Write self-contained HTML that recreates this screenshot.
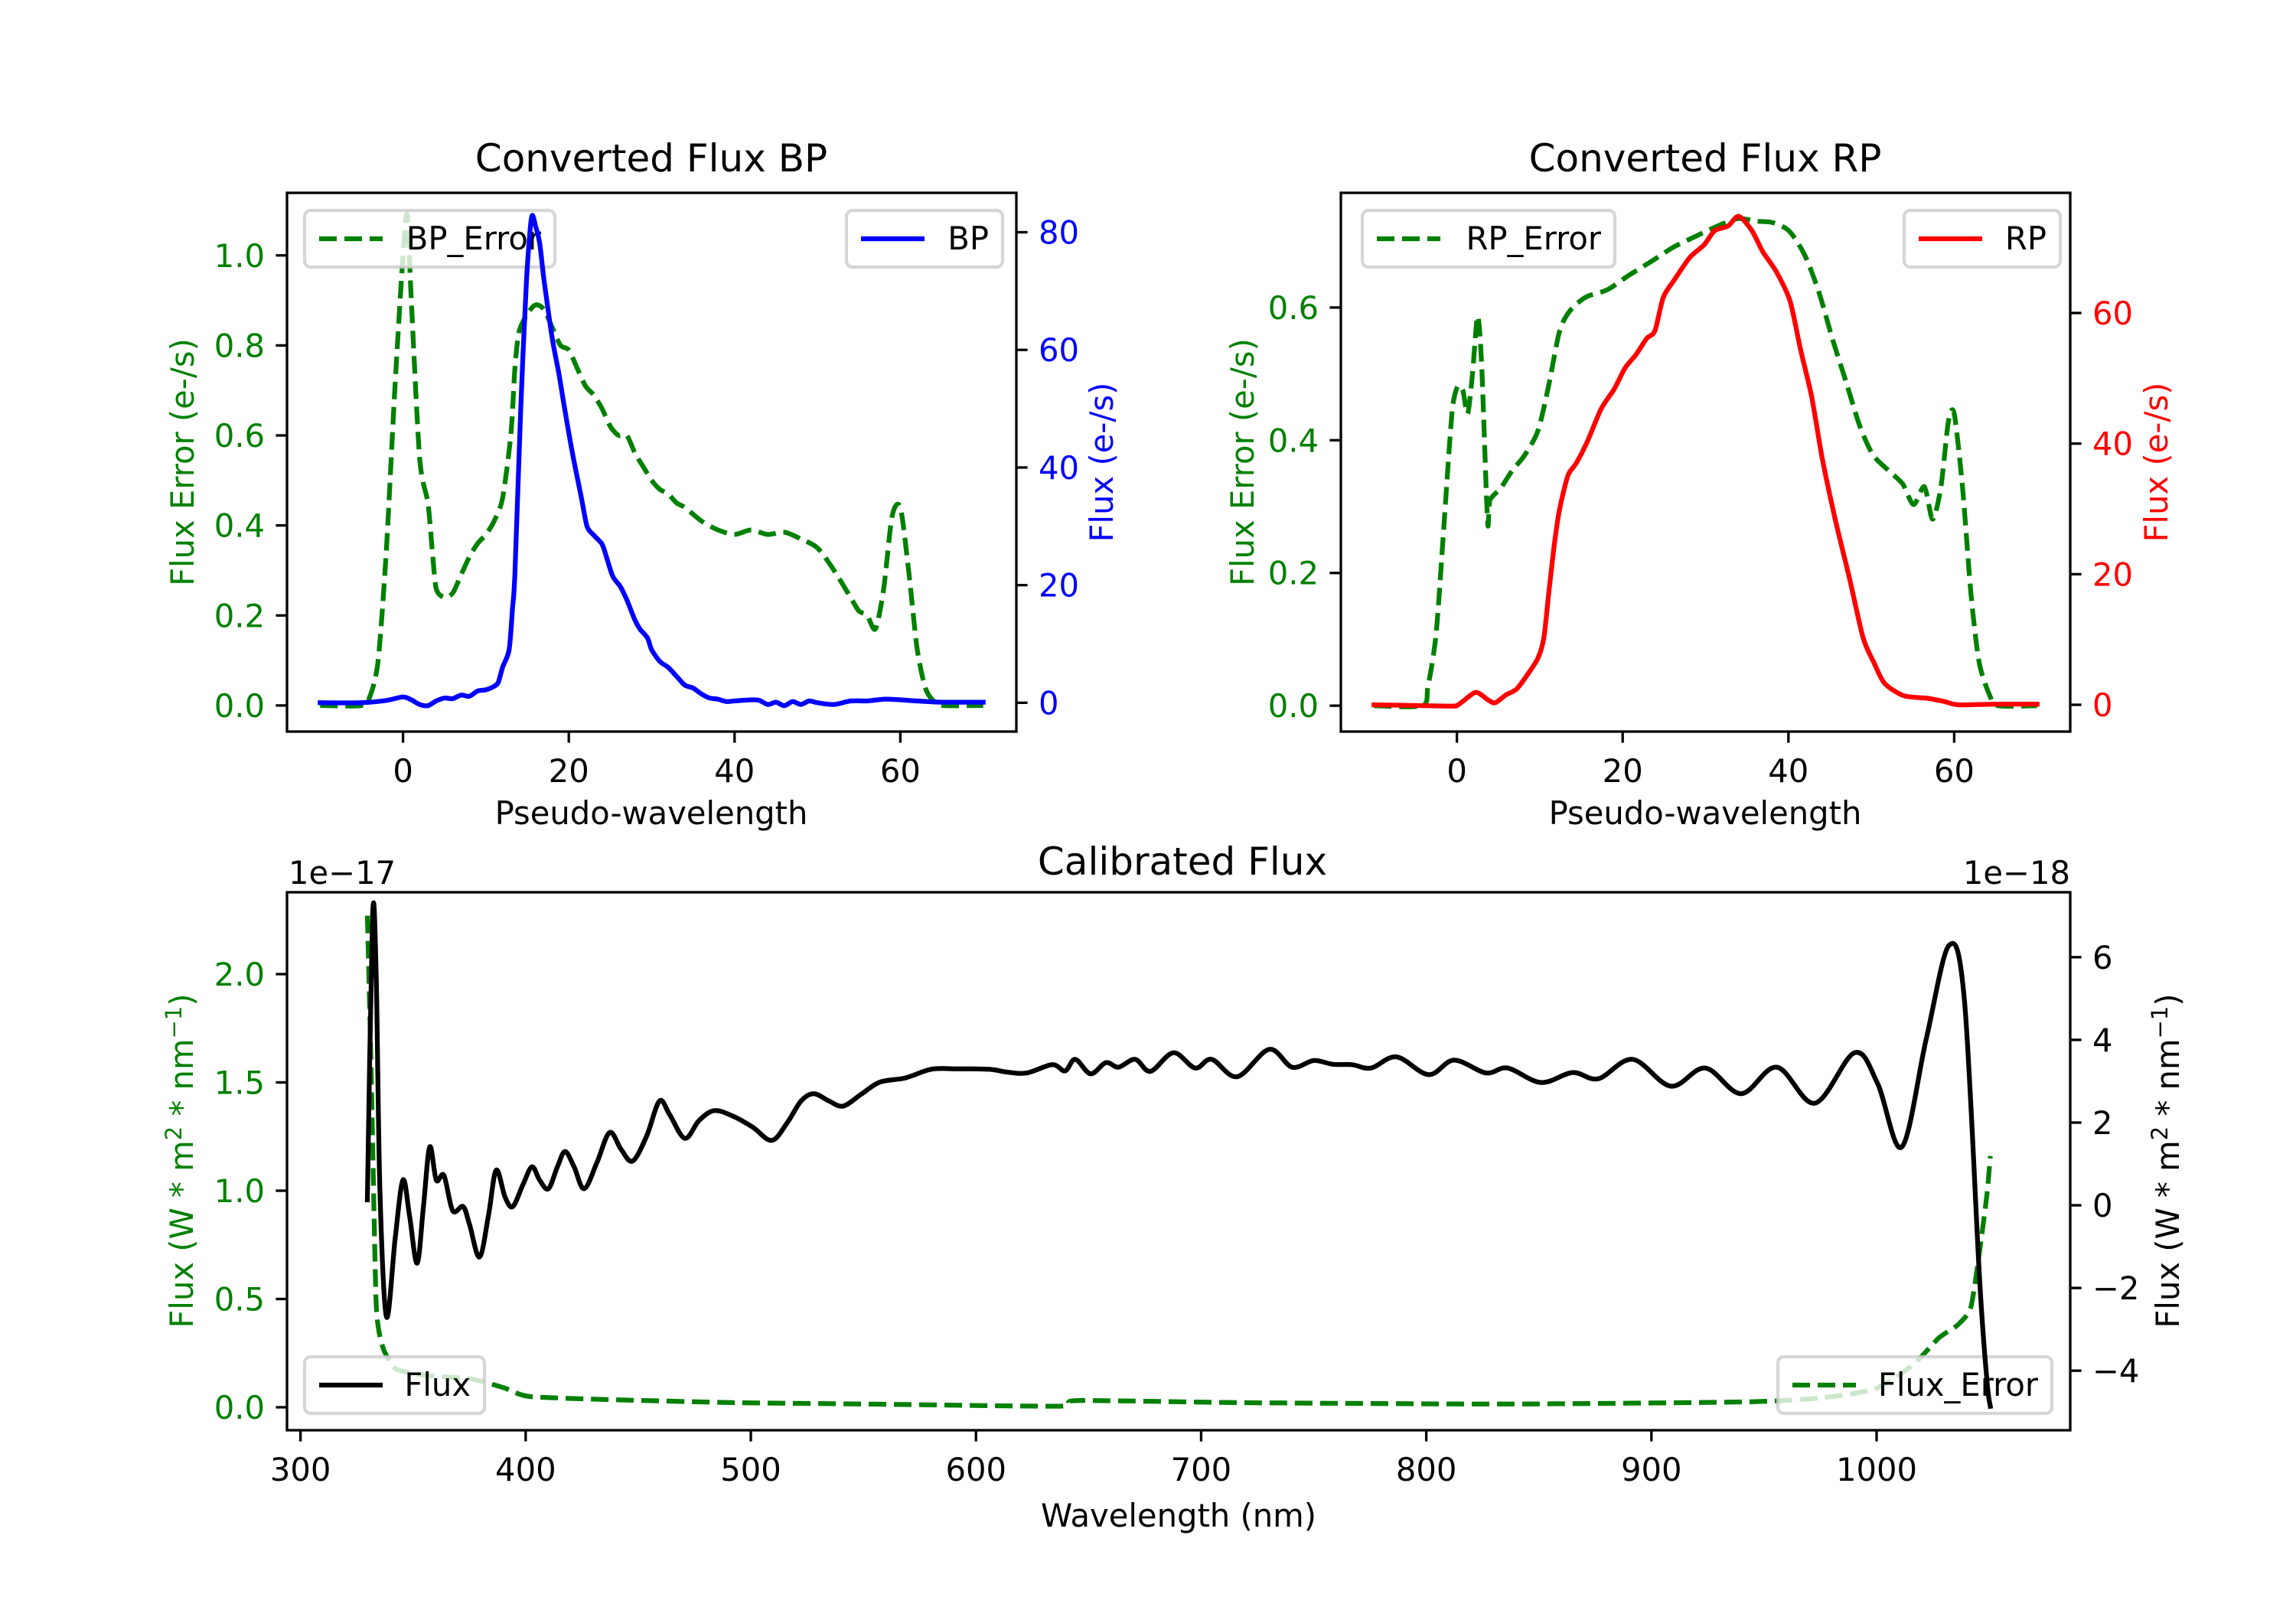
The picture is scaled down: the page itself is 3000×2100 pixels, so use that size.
<!DOCTYPE html>
<html><head><meta charset="utf-8"><style>
html,body{margin:0;padding:0;background:#fff;}
svg{display:block;font-family:"DejaVu Sans","Liberation Sans",sans-serif;}
</style></head><body>
<svg id="fig" width="3000" height="2100" viewBox="0 0 3000 2100" xmlns="http://www.w3.org/2000/svg">
<rect width="3000" height="2100" fill="#fff"/>
<g id="layer"></g>
<text x="851" y="224" font-size="50" text-anchor="middle">Converted Flux BP</text>
<text x="2228" y="224" font-size="50" text-anchor="middle">Converted Flux RP</text>
<text x="1545" y="1143" font-size="50" text-anchor="middle">Calibrated Flux</text>
<text x="851" y="1077" font-size="41.7" text-anchor="middle">Pseudo-wavelength</text>
<text x="2228" y="1077" font-size="41.7" text-anchor="middle">Pseudo-wavelength</text>
<text x="1540" y="1995" font-size="41.7" text-anchor="middle">Wavelength (nm)</text>
<text transform="translate(253,604) rotate(-90)" font-size="41.7" fill="#008000" text-anchor="middle">Flux Error (e-/s)</text>
<text transform="translate(1454,604) rotate(-90)" font-size="41.7" fill="#0000ff" text-anchor="middle">Flux (e-/s)</text>
<text transform="translate(1638,604) rotate(-90)" font-size="41.7" fill="#008000" text-anchor="middle">Flux Error (e-/s)</text>
<text transform="translate(2832,604) rotate(-90)" font-size="41.7" fill="#ff0000" text-anchor="middle">Flux (e-/s)</text>
<text transform="translate(252,1517) rotate(-90)" font-size="41.7" fill="#008000" text-anchor="middle">Flux (W * m<tspan font-size="29" dy="-15">2</tspan><tspan dy="15"> * nm</tspan><tspan font-size="29" dy="-15">−1</tspan><tspan dy="15">)</tspan></text>
<text transform="translate(2847,1517) rotate(-90)" font-size="41.7" fill="#000" text-anchor="middle">Flux (W * m<tspan font-size="29" dy="-15">2</tspan><tspan dy="15"> * nm</tspan><tspan font-size="29" dy="-15">−1</tspan><tspan dy="15">)</tspan></text>
<text x="377" y="1155" font-size="41.7">1e−17</text>
<text x="2705" y="1155" font-size="41.7" text-anchor="end">1e−18</text>
</svg>
<script>
// ---- data: Converted Flux BP ----
const bpErrX=[-10,-5,-4,-3,-2,-1,0,0.5,1,2,3,3.5,4,5,6,7,8,9,10,11,12,13,13.5,14,15,16,17,18,19,20,21,22,23,24,25,26,27,28,29,30,31,32,33,34,36,38,40,42,44,46,48,50,52,54,55,56,57,58,59,60,61,62,63,64,65,70];
const bpErrY=[0,0,0.02,0.1,0.35,0.7,1.0,1.09,0.9,0.55,0.45,0.35,0.26,0.24,0.25,0.29,0.33,0.36,0.38,0.41,0.46,0.6,0.75,0.83,0.87,0.89,0.88,0.84,0.8,0.79,0.75,0.71,0.69,0.66,0.62,0.6,0.6,0.56,0.53,0.5,0.48,0.47,0.45,0.44,0.41,0.39,0.38,0.39,0.38,0.385,0.37,0.35,0.3,0.24,0.21,0.2,0.17,0.26,0.42,0.44,0.3,0.13,0.04,0.01,0,0];
const bpX=[-10,-5,-2,0,1,2,3,4,5,6,7,8,9,10,11,11.5,12,12.8,13.2,13.5,14.2,14.9,15.5,16,16.5,17,18,18.8,19.5,20.5,21.5,22.2,23,24,24.5,25.3,26.2,27,28,28.6,29.5,30,31,32,33,34,35,36,37,38,39,40,42,43,44,45,46,47,48,49,50,52,54,56,58,60,62,65,70];
const bpY=[0,0,0.4,1.0,0.5,-0.3,-0.5,0.3,0.8,0.7,1.3,1.1,2.0,2.2,2.8,3.5,6,9,16,22,50,72,82.5,81,78,72,62,56,50,42,35,30,28.5,27,25,21.5,19.8,17.5,14,12.5,11,9,7,6,4.5,3,2.5,1.5,0.8,0.6,0.2,0.3,0.5,0.4,-0.3,0.1,-0.5,0.2,-0.3,0.3,0,-0.3,0.3,0.3,0.6,0.5,0.3,0.1,0.1];
const bpLeftTicks=[0.0,0.2,0.4,0.6,0.8,1.0];
const bpRightTicks=[0,20,40,60,80];
const pseudoTicks=[0,20,40,60];
// ---- data: Converted Flux RP ----
const rpErrX=[-10,-4.2,-3.5,-2.5,-1.6,-0.6,0.05,0.7,1.3,1.9,2.5,3.0,3.7,4.0,5.3,6.6,8.2,9.8,11.1,12.4,13.7,15.6,18.2,20.8,23.4,26.0,28.6,31.3,33.9,36.2,38.1,40.1,42.0,43.7,45.3,46.9,48.6,50.2,52.2,53.8,55.1,56.4,57.4,58.4,59.3,60.0,61.0,62.0,63.0,64.3,65.3,70];
const rpErrY=[0,0,0.028,0.109,0.265,0.44,0.48,0.476,0.44,0.503,0.587,0.51,0.278,0.31,0.328,0.353,0.378,0.415,0.484,0.565,0.596,0.616,0.627,0.649,0.669,0.69,0.706,0.722,0.734,0.73,0.728,0.715,0.678,0.622,0.553,0.49,0.422,0.378,0.353,0.334,0.303,0.33,0.281,0.33,0.428,0.44,0.33,0.172,0.066,0.015,0,0];
const rpX=[-10,-1,0,0.7,2.3,3.7,4.6,5.9,7.2,8.5,9.8,10.5,11.1,11.8,12.4,13.4,14.4,15.7,17.4,19.0,20.3,21.6,22.9,23.9,24.9,26.2,28.1,29.8,31.1,32.7,34.0,35.6,36.9,38.6,40.2,41.5,42.8,44.1,45.7,47.4,49.0,50.3,51.6,53.9,56.8,58.8,60.5,64.7,70];
const rpY=[0,-0.2,-0.1,0.5,1.9,0.8,0.3,1.5,2.4,4.6,7.2,10.3,17.3,25,30,35.1,37,40.2,45.3,48.4,51.6,53.6,56.1,57.3,62.4,65,68.5,70.4,72.6,73.3,74.8,72.6,69.4,66.2,61.8,54.2,47.2,37.6,28.1,19.2,10.3,6.5,3.3,1.4,1.0,0.5,0,0.1,0.1];
const rpLeftTicks=[0.0,0.2,0.4,0.6];
const rpRightTicks=[0,20,40,60];
// ---- data: Calibrated Flux ----
const wlX=[329.7,332,333.6,335.3,338.2,342.1,345.5,348.4,351.8,354.6,357.4,360.3,363.7,367.6,372.2,375,379.5,383.5,386.9,390.9,394.3,398.8,402.8,406.2,410.1,414.1,417.5,421.5,426,431.7,437.3,442.4,447.5,453.7,459.4,463.9,470.7,477,483.8,492.3,500.8,509.3,516.1,522.3,528,534.8,541,548.9,557.4,568.7,580.1,591.4,605.6,614.1,622.6,633.9,639.6,644.1,650.9,657.7,663.3,670.7,677.5,687.7,697.3,704.7,716,730.2,740.4,750,758.5,767,775.5,786.8,801,812.3,826.5,836.1,850.9,865,876.4,891.6,908.6,923.9,939.8,955.7,972.6,990.2,1000.4,1011.2,1022,1032.1,1039,1045.8,1049.1,1050.5];
const fluxY=[0.13,6.99,5.6,0.3,-2.7,-0.77,0.61,-0.24,-1.4,-0.03,1.41,0.61,0.72,-0.13,-0.03,-0.45,-1.25,-0.24,0.85,0.19,-0.03,0.5,0.93,0.61,0.4,0.93,1.3,0.93,0.4,1.04,1.76,1.35,1.07,1.67,2.52,2.2,1.62,2.05,2.29,2.15,1.89,1.57,1.99,2.52,2.7,2.52,2.4,2.68,2.98,3.08,3.29,3.3,3.29,3.22,3.2,3.4,3.25,3.53,3.18,3.45,3.34,3.53,3.24,3.69,3.32,3.53,3.11,3.77,3.34,3.5,3.41,3.4,3.32,3.59,3.16,3.51,3.2,3.32,2.97,3.21,3.06,3.53,2.88,3.32,2.7,3.34,2.47,3.69,2.95,1.41,4.01,6.28,4.97,-1.83,-4.28,-4.86];
const errWlX=[329.7,331.5,333.6,336.5,342,353.5,376,390.3,401.6,438.5,495,551.8,636.7,645,721.7,835,943,976.6,999.3,1016.3,1027.6,1036,1041.8,1045.8,1049.1,1050.5];
const fluxErrY=[2.27,1.5,0.48,0.28,0.18,0.15,0.13,0.09,0.05,0.035,0.021,0.015,0.005,0.031,0.021,0.015,0.025,0.045,0.085,0.197,0.32,0.38,0.46,0.725,0.99,1.16];
const wlTicks=[300,400,500,600,700,800,900,1000];
const calLeftTicks=[0.0,0.5,1.0,1.5,2.0];
const calRightTicks=[-4,-2,0,2,4,6];

const NS='http://www.w3.org/2000/svg';
const layer=document.getElementById('layer');
function lin(d0,d1,p0,p1){return v=>p0+(v-d0)/(d1-d0)*(p1-p0);}
function mk(tag,attrs,parent){const e=document.createElementNS(NS,tag);for(const k in attrs)e.setAttribute(k,attrs[k]);(parent||layer).appendChild(e);return e;}
function pathD(xs,ys,fx,fy,smooth){
  const P=xs.map((x,i)=>[fx(x),fy(ys[i])]);
  let d='M'+P[0][0].toFixed(1)+' '+P[0][1].toFixed(1);
  for(let i=0;i<P.length-1;i++){
    const p0=P[Math.max(0,i-1)],p1=P[i],p2=P[i+1],p3=P[Math.min(P.length-1,i+2)];
    if(!smooth){d+='L'+p2[0].toFixed(1)+' '+p2[1].toFixed(1);continue;}
    const k=smooth/6;
    const c1=[p1[0]+(p2[0]-p0[0])*k,p1[1]+(p2[1]-p0[1])*k];
    const c2=[p2[0]-(p3[0]-p1[0])*k,p2[1]-(p3[1]-p1[1])*k];
    d+='C'+c1[0].toFixed(1)+' '+c1[1].toFixed(1)+' '+c2[0].toFixed(1)+' '+c2[1].toFixed(1)+' '+p2[0].toFixed(1)+' '+p2[1].toFixed(1);
  }
  return d;}
function fmt(v,dec){return (v<0?'−':'')+Math.abs(v).toFixed(dec);}

function series(name,xs,ys,fx,fy,color,dashed,clip,smooth){
  const p=mk('path',{d:pathD(xs,ys,fx,fy,smooth),fill:'none',stroke:color,'stroke-width':6.25,'stroke-linejoin':'round','stroke-linecap':dashed?'butt':'square','clip-path':'url(#'+clip+')'});
  if(dashed)p.setAttribute('stroke-dasharray','23 10');
  
  
}
function legend(name,x,y,w,label,color,dashed){
  const g=mk('g',{});
  
  
  mk('rect',{x:x,y:y,width:w,height:74,rx:8,fill:'#fff','fill-opacity':0.8,stroke:'#cccccc','stroke-opacity':0.8,'stroke-width':4.2},g);
  const l=mk('line',{x1:x+19,y1:y+37,x2:x+102,y2:y+37,stroke:color,'stroke-width':6.25},g);
  if(dashed)l.setAttribute('stroke-dasharray','23 10');
  const t=mk('text',{x:x+w-18,y:y+51,'font-size':41.7,'text-anchor':'end',fill:'#000'},g);
  t.textContent=label;
}
function frame(name,L,R,T,B,clip){
  const defs=mk('defs',{});const cp=mk('clipPath',{id:clip},defs);mk('rect',{x:L,y:T,width:R-L,height:B-T},cp);
  const r=mk('rect',{x:L,y:T,width:R-L,height:B-T,fill:'none',stroke:'#000','stroke-width':3.3});
  
  
}
function xTicks(prefix,ticks,fx,B){
  ticks.forEach(v=>{const X=fx(v);
    mk('line',{x1:X,y1:B,x2:X,y2:B+14.6,stroke:'#000','stroke-width':3.3});
    const t=mk('text',{x:X,y:B+66,'font-size':41.7,'text-anchor':'middle'});
    
    
    t.textContent=fmt(v,0);});
}
function yTicks(prefix,ticks,fy,X,side,color,dec){
  ticks.forEach(v=>{const Y=fy(v);
    mk('line',{x1:X,y1:Y,x2:X+side*14.6,y2:Y,stroke:'#000','stroke-width':3.3});
    const t=mk('text',{x:X+side*29,y:Y+15,'font-size':41.7,'text-anchor':side<0?'end':'start',fill:color});
    
    
    t.textContent=fmt(v,dec);});
}

// Panel BP
(function(){const L=375,R=1328,T=252,B=956;
  const fx=lin(-14,74,L,R),fyL=lin(-0.058,1.139,B,T),fyR=lin(-4.9,86.7,B,T);
  series('bp-error-line',bpErrX,bpErrY,fx,fyL,'#008000',true,'clipA',0.8);
  legend('bp-error-legend',398,275,327,'BP_Error','#008000',true);
  series('bp-flux-line',bpX,bpY,fx,fyR,'#0000ff',false,'clipA',0.8);
  legend('bp-legend',1106,275,204,'BP','#0000ff',false);
  frame('bp-plot-frame',L,R,T,B,'clipA');
  xTicks('bp',pseudoTicks,fx,B);
  yTicks('bp-left',bpLeftTicks,fyL,L,-1,'#008000',1);
  yTicks('bp-right',bpRightTicks,fyR,R,1,'#0000ff',0);
})();
// Panel RP
(function(){const L=1752,R=2705,T=252,B=956;
  const fx=lin(-14,74,L,R),fyL=lin(-0.039,0.7728,B,T),fyR=lin(-4.1,78.4,B,T);
  series('rp-error-line',rpErrX,rpErrY,fx,fyL,'#008000',true,'clipB',0.8);
  legend('rp-error-legend',1780,275,330,'RP_Error','#008000',true);
  series('rp-flux-line',rpX,rpY,fx,fyR,'#ff0000',false,'clipB',0.8);
  legend('rp-legend',2488,275,204,'RP','#ff0000',false);
  frame('rp-plot-frame',L,R,T,B,'clipB');
  xTicks('rp',pseudoTicks,fx,B);
  yTicks('rp-left',rpLeftTicks,fyL,L,-1,'#008000',1);
  yTicks('rp-right',rpRightTicks,fyR,R,1,'#ff0000',0);
})();
// Panel Calibrated
(function(){const L=375,R=2705,T=1166,B=1869;
  const fx=lin(294,1086,L,R),fyL=lin(-0.106,2.378,B,T),fyR=lin(-5.44,7.57,B,T);
  series('flux-error-line',errWlX,fluxErrY,fx,fyL,'#008000',true,'clipC',0.6);
  legend('flux-legend',398,1773,235,'Flux','#000',false);
  legend('flux-error-legend',2323,1773,358,'Flux_Error','#008000',true);
  series('flux-line',wlX,fluxY,fx,fyR,'#000',false,'clipC',1);
  frame('calibrated-plot-frame',L,R,T,B,'clipC');
  xTicks('calibrated',wlTicks,fx,B);
  yTicks('calibrated-left',calLeftTicks,fyL,L,-1,'#008000',1);
  yTicks('calibrated-right',calRightTicks,fyR,R,1,'#000',0);
})();
</script>
</body></html>
